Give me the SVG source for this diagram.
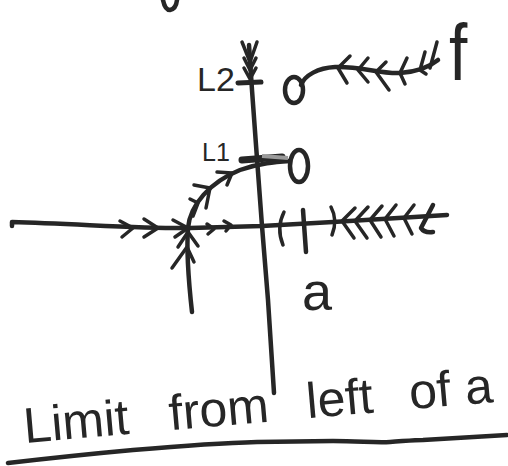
<svg xmlns="http://www.w3.org/2000/svg" width="508" height="466" viewBox="0 0 508 466">
<style>
.s{fill:none;stroke:#262626;stroke-width:4.5;stroke-linecap:round;stroke-linejoin:round}
.t{fill:none;stroke:#262626;stroke-width:3.5;stroke-linecap:round;stroke-linejoin:round}
.lbl{font-family:"Liberation Sans",Arial,sans-serif;fill:#262626}
</style>
<rect width="508" height="466" fill="#ffffff"/>
<!-- fragment at top edge -->
<path class="s" d="M163,0 Q165,10 170,10 Q176,9 177,0"/>
<g id="y-axis">
<path class="s" d="M249,45 L252,90 L256,145 L262,226 L268,300 L274,393"/>
<path class="t" d="M242,42 L250,62 L257,42"/>
<path class="t" d="M244,58 L250,70 L256,58"/>
<path class="t" d="M244,68 L250,79 L256,68"/>
<path class="s" d="M238,83 L261,82" style="stroke-width:5"/>
<path class="s" d="M242,160 L282,157" style="stroke-width:7"/>
</g>
<g id="x-axis">
<path class="s" d="M12,226 L12,222 C80,224 150,229 190,228 L262,226 L333,222 L447,215"/>
<path class="t" d="M120,221 L133,228 L122,237"/>
<path class="t" d="M144,219 L158,228 L144,237"/>
<path class="t" d="M173,220 L188,228 L175,237"/>
<path class="t" d="M207,224 L214,229 L208,234"/>
<path class="t" d="M224,221 L231,225 L226,231"/>
<path class="t" d="M284,212 Q276,228 283,245"/>
<path class="s" d="M303,210 L306,252"/>
<path class="t" d="M331,207 Q338,220 332,235"/>
<path class="t" d="M355,208 L342,221 L354,238"/>
<path class="t" d="M368,207 L355,221 L367,238"/>
<path class="t" d="M382,206 L370,220 L381,237"/>
<path class="t" d="M396,205 L385,219 L394,236"/>
<path class="t" d="M414,205 L404,218 L412,234"/>
<path class="s" d="M433,205 L421,228 Q424,233 433,232"/>
</g>
<g id="left-curve">
<path class="s" d="M192,312 C189,285 186,255 188,228 C190,205 210,182 240,170 C260,163 275,162 290,161"/>
<path class="t" d="M178,247 L188,232 L198,246"/>
<path class="t" d="M172,268 L187,247 L194,262"/>
<path class="t" d="M217,172 L232,173 L227,185"/>
<path class="t" d="M194,185 L210,188 L206,208"/>
<path class="t" d="M190,199 L198,203 L193,216"/>
<ellipse class="s" cx="299" cy="166" rx="9" ry="16"/>
<path d="M262,156 L288,158" stroke="#9a9a9a" stroke-width="4" fill="none"/>
</g>
<g id="upper-curve">
<ellipse class="s" cx="294" cy="90" rx="9" ry="13"/>
<path class="s" d="M301,85 C305,75 318,68 335,67 C360,66 380,74 400,73 C415,72 428,68 438,60"/>
<path class="t" d="M350,56 L338,68 L347,83"/>
<path class="t" d="M368,58 L358,70 L368,82"/>
<path class="t" d="M386,62 L376,72 L389,90"/>
<path class="t" d="M407,58 L400,73 L405,84"/>
<path class="t" d="M425,52 L420,70 L426,74"/>
<path class="t" d="M437,42 L430,68"/>
</g>
<g id="labels">
<text class="lbl" font-size="66" transform="translate(449,80) scale(1,1.2)">f</text>
<text class="lbl" x="197" y="91" font-size="34">L2</text>
<text class="lbl" x="202" y="161" font-size="25">L1</text>
<text class="lbl" x="302" y="310" font-size="54">a</text>
<text class="lbl" font-size="50" transform="translate(25,443) rotate(-5)"><tspan x="0">Limit</tspan><tspan x="132"> from</tspan><tspan x="270"> left</tspan><tspan x="373"> of</tspan><tspan x="429"> a</tspan></text>
</g>
<path class="s" d="M8,463 C60,457 100,453 133,450 C180,446 220,443 257,442 L333,441 C360,441 375,443 390,442 C405,441 415,440 423,440 C460,438 490,436 507,435"/>
</svg>
